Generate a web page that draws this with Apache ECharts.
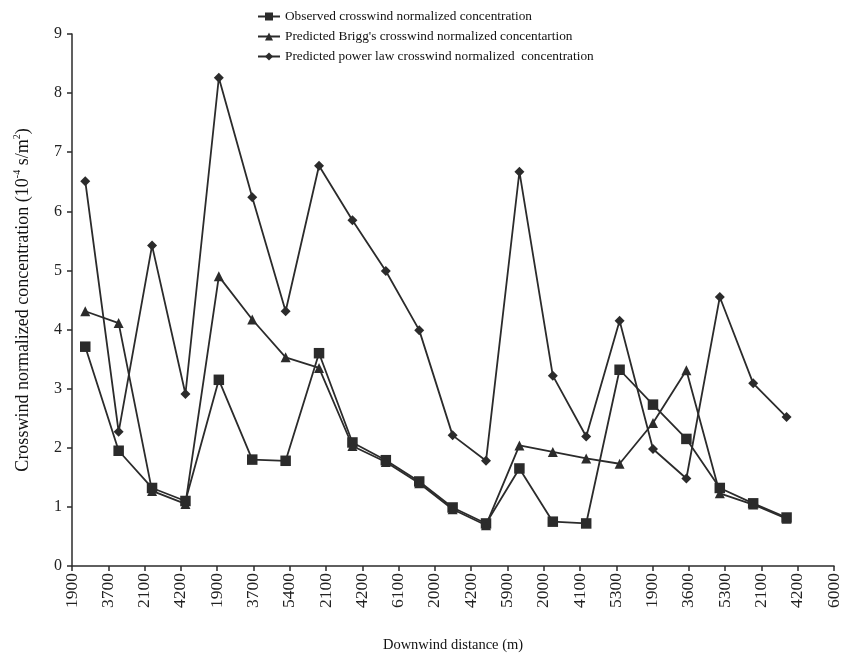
<!DOCTYPE html>
<html><head><meta charset="utf-8">
<script src="https://cdn.jsdelivr.net/npm/echarts@6/dist/echarts.min.js"></script>
<style>html,body{margin:0;padding:0;background:#fff}#c{width:843px;height:658px}</style>
</head><body><div id="c"></div>
<script>
const tickLabels = ['1900','3700','2100','4200','1900','3700','5400','2100','4200','6100','2000','4200','5900','2000','4100','5300','1900','3600','5300','2100','4200','6000'];
const observed = [3.71,1.95,1.32,1.10,3.15,1.80,1.78,3.60,2.09,1.79,1.43,0.99,0.72,1.65,0.75,0.72,3.32,2.73,2.15,1.32,1.06,0.82];
const briggs   = [4.31,4.11,1.27,1.05,4.90,4.17,3.53,3.35,2.03,1.76,1.40,0.96,0.69,2.04,1.93,1.82,1.73,2.42,3.31,1.23,1.04,0.80];
const powerLaw = [6.51,2.27,5.42,2.91,8.26,6.24,4.31,6.77,5.85,4.99,3.99,2.21,1.78,6.67,3.22,2.19,4.15,1.98,1.48,4.55,3.09,2.52];
const seriesNames = ['Observed crosswind normalized concentration',"Predicted Brigg's crosswind normalized concentartion",'Predicted power law crosswind normalized  concentration'];

const FONT = '"Liberation Serif", "DejaVu Serif", serif';
const INK = '#2b2b2b';
const toPts = arr => arr.map((v, i) => [i, v]);

function mkSeries(name, data, symbol, size) {
  return {
    name, type: 'line', xAxisIndex: 1, yAxisIndex: 0,
    data: toPts(data), symbol, symbolSize: size, showSymbol: true,
    lineStyle: { color: INK, width: 1.8 },
    itemStyle: { color: INK, borderWidth: 0 },
    emphasis: { disabled: true }
  };
}

const chart = echarts.init(document.getElementById('c'), null, { renderer: 'canvas' });
chart.setOption({
  animation: false,
  backgroundColor: '#fff',
  legend: {
    orient: 'vertical', left: 252, top: 5, itemWidth: 22, itemHeight: 10, itemGap: 7,
    textStyle: { fontFamily: FONT, fontSize: 13.3, color: '#111' },
    data: seriesNames
  },
  grid: { left: 72, right: 6, top: 34, bottom: 90, containLabel: false },
  xAxis: [
    {
      type: 'category', data: tickLabels, boundaryGap: false,
      axisLine: { onZero: false, lineStyle: { color: INK, width: 1.5 } },
      axisTick: { show: true, length: 5, interval: 0, lineStyle: { color: INK, width: 1.5 } },
      axisLabel: { rotate: 90, interval: 0, fontFamily: FONT, fontSize: 17.5, color: '#222', margin: 7 },
      splitLine: { show: false },
      name: 'Downwind distance (m)', nameLocation: 'middle', nameGap: 72,
      nameTextStyle: { fontFamily: FONT, fontSize: 14.5, color: '#111' }
    },
    { type: 'value', show: false, min: -0.397, max: 22.42 }
  ],
  yAxis: [{
    type: 'value', min: 0, max: 9, interval: 1,
    axisLine: { show: true, onZero: false, lineStyle: { color: INK, width: 1.5 } },
    axisTick: { show: true, length: 5, lineStyle: { color: INK, width: 1.5 } },
    axisLabel: { fontFamily: FONT, fontSize: 16, color: '#222', margin: 10 },
    splitLine: { show: false },
    name: '{a|Crosswind normalized concentration (10}{s|-4}{a| s/m}{s|2}{a|)}',
    nameLocation: 'middle', nameGap: 38,
    nameTextStyle: {
      fontFamily: FONT, color: '#111',
      rich: {
        a: { fontFamily: FONT, fontSize: 18, color: '#111', lineHeight: 22 },
        s: { fontFamily: FONT, fontSize: 10, color: '#111', verticalAlign: 'top', lineHeight: 22 }
      }
    }
  }],
  series: [
    mkSeries(seriesNames[0], observed, 'rect', 10.5),
    mkSeries(seriesNames[1], briggs, 'triangle', 10),
    mkSeries(seriesNames[2], powerLaw, 'diamond', 10)
  ]
});
</script></body></html>
